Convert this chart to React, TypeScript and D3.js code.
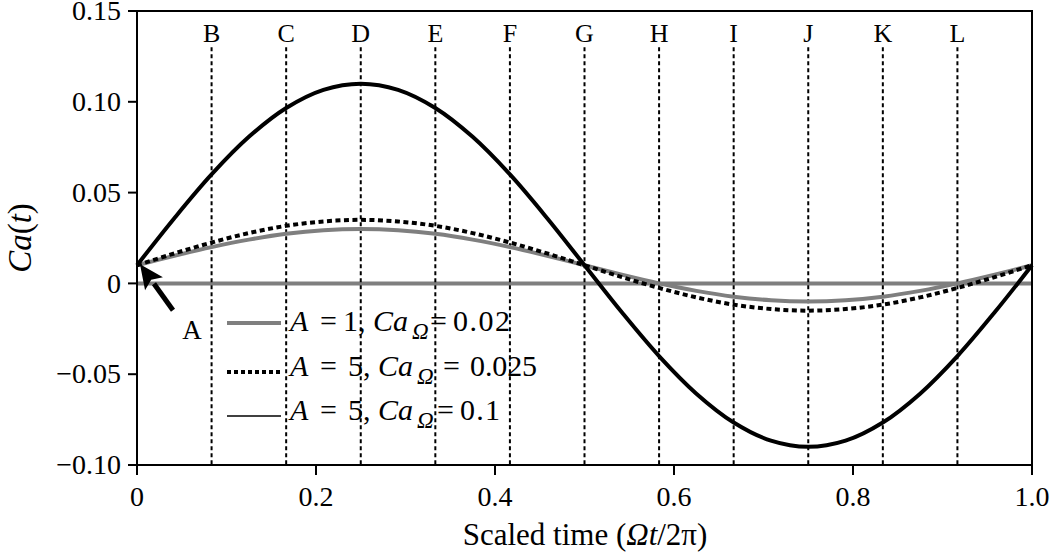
import React from "react";
import * as d3 from "d3";

const tValues = [0, 0.0417, 0.0833, 0.125, 0.1667, 0.2083, 0.25, 0.2917, 0.3333, 0.375, 0.4167, 0.4583, 0.5, 0.5417, 0.5833, 0.625, 0.6667, 0.7083, 0.75, 0.7917, 0.8333, 0.875, 0.9167, 0.9583, 1.0];
const seriesA1 = [0.010, 0.0152, 0.020, 0.0241, 0.0273, 0.0293, 0.030, 0.0293, 0.0273, 0.0241, 0.020, 0.0152, 0.010, 0.0048, 0.000, -0.0041, -0.0073, -0.0093, -0.010, -0.0093, -0.0073, -0.0041, 0.000, 0.0048, 0.010];
const seriesA5low = [0.010, 0.0165, 0.0225, 0.0277, 0.0317, 0.0341, 0.035, 0.0341, 0.0317, 0.0277, 0.0225, 0.0165, 0.010, 0.0035, -0.0025, -0.0077, -0.0117, -0.0141, -0.015, -0.0141, -0.0117, -0.0077, -0.0025, 0.0035, 0.010];
const seriesA5high = [0.010, 0.0359, 0.060, 0.0807, 0.0966, 0.1066, 0.110, 0.1066, 0.0966, 0.0807, 0.060, 0.0359, 0.010, -0.0159, -0.040, -0.0607, -0.0766, -0.0866, -0.090, -0.0866, -0.0766, -0.0607, -0.040, -0.0159, 0.010];
const markerLabels = ["B", "C", "D", "E", "F", "G", "H", "I", "J", "K", "L"];
const markerT = [1 / 12, 2 / 12, 3 / 12, 4 / 12, 5 / 12, 6 / 12, 7 / 12, 8 / 12, 9 / 12, 10 / 12, 11 / 12];
const xTicks = [0, 0.2, 0.4, 0.6, 0.8, 1.0];
const xTickLabels = ["0", "0.2", "0.4", "0.6", "0.8", "1.0"];
const yTicks = [0.15, 0.10, 0.05, 0, -0.05, -0.10];
const yTickLabels = ["0.15", "0.10", "0.05", "0", "\u22120.05", "\u22120.10"];
const markerTop = 0.13;
const arrowPoint = { t: 0, v: 0.01 };
const legendAValues = ["1,", "5,", "5,"];
const legendCaValues = ["0.02", "0.025", "0.1"];

const FONT = "'Liberation Serif', 'Times New Roman', serif";
const GRAY = "#7f7f7f";

export default function App() {
  const W = 1050, H = 559;
  const x0 = 137, x1 = 1032, yTop = 11, yBot = 465;
  const x = d3.scaleLinear().domain([0, 1]).range([x0, x1]);
  const y = d3.scaleLinear().domain([-0.1, 0.15]).range([yBot, yTop]);

  const line = d3
    .line<number>()
    .x((_, i) => x(tValues[i]))
    .y((d) => y(d))
    .curve(d3.curveCatmullRom.alpha(0.5));

  const tipX = x(arrowPoint.t) + 3;
  const tipY = y(arrowPoint.v) - 1;
  const tailX = tipX + 33;
  const tailY = tipY + 46;
  const ang = Math.atan2(tipY - tailY, tipX - tailX);
  const headLen = 24, headW = 11;
  const bx = tipX - headLen * Math.cos(ang);
  const by = tipY - headLen * Math.sin(ang);
  const px = -Math.sin(ang), py = Math.cos(ang);
  const head = `M${tipX},${tipY} L${bx + px * headW},${by + py * headW} L${bx + (tipX - bx) * 0.2},${by + (tipY - by) * 0.2} L${bx - px * headW},${by - py * headW} Z`;

  const legendRows = [
    { y: 323, base: 331, stroke: GRAY, width: 4, dash: undefined as string | undefined, xEq1: 320, xA: 343, xCa: 373, xOm: 412, xEq2: 430, xV: 453, wV: 57 },
    { y: 372, base: 376, stroke: "#000", width: 4, dash: "4,3", xEq1: 320, xA: 348, xCa: 378, xOm: 417, xEq2: 443, xV: 470, wV: 67 },
    { y: 416, base: 420, stroke: "#000", width: 1.5, dash: undefined, xEq1: 320, xA: 348, xCa: 378, xOm: 417, xEq2: 437, xV: 460, wV: 40 },
  ];

  return (
    <svg width={W} height={H} style={{ display: "block", position: "absolute", left: 0, top: 0 }} fontFamily={FONT}>
      <rect x={0} y={0} width={W} height={H} fill="#fff" />
      <line x1={x(0)} x2={x(1)} y1={y(0)} y2={y(0)} stroke={GRAY} strokeWidth={4} />
      {markerT.map((t, i) => (
        <g key={i}>
          <line x1={x(t)} x2={x(t)} y1={y(markerTop)} y2={y(-0.1)} stroke="#000" strokeWidth={2} strokeDasharray="4,3" />
          <text x={x(t)} y={42} fontSize={26} textAnchor="middle">{markerLabels[i]}</text>
        </g>
      ))}
      <path d={line(seriesA1) || ""} fill="none" stroke={GRAY} strokeWidth={4} />
      <path d={line(seriesA5low) || ""} fill="none" stroke="#000" strokeWidth={4} strokeDasharray="5,3.5" />
      <path d={line(seriesA5high) || ""} fill="none" stroke="#000" strokeWidth={4} />
      <rect x={x0} y={yTop} width={x1 - x0} height={yBot - yTop} fill="none" stroke="#000" strokeWidth={2} />
      {yTicks.map((v, i) => (
        <g key={i}>
          <line x1={x0 - 9} x2={x0} y1={y(v)} y2={y(v)} stroke="#000" strokeWidth={2} />
          <text x={x0 - 16} y={y(v)} dy="0.33em" fontSize={28} textAnchor="end">{yTickLabels[i]}</text>
        </g>
      ))}
      {xTicks.map((v, i) => (
        <g key={i}>
          <line x1={x(v)} x2={x(v)} y1={yBot} y2={yBot + 10} stroke="#000" strokeWidth={2} />
          <text x={x(v)} y={506} fontSize={28} textAnchor="middle">{xTickLabels[i]}</text>
        </g>
      ))}
      <text x={585} y={545} fontSize={31} textAnchor="middle">
        Scaled time (<tspan fontStyle="italic">Ωt</tspan>/2π)
      </text>
      <text transform="translate(31,238) rotate(-90)" fontSize={33} textAnchor="middle">
        <tspan fontStyle="italic">Ca</tspan>(<tspan fontStyle="italic">t</tspan>)
      </text>
      <line x1={tailX} y1={tailY} x2={bx} y2={by} stroke="#000" strokeWidth={5} />
      <path d={head} fill="#000" />
      <text x={192} y={339} fontSize={27} textAnchor="middle">A</text>
      {legendRows.map((r, i) => (
        <g key={i} fontSize={30}>
          <line x1={227} x2={281} y1={r.y} y2={r.y} stroke={r.stroke} strokeWidth={r.width} strokeDasharray={r.dash} />
          <text x={290} y={r.base} fontStyle="italic">A</text>
          <text x={r.xEq1} y={r.base}>=</text>
          <text x={r.xA} y={r.base}>{legendAValues[i]}</text>
          <text x={r.xCa} y={r.base} fontStyle="italic">Ca</text>
          <text x={r.xOm} y={r.base + 8} fontStyle="italic" fontSize={23}>Ω</text>
          <text x={r.xEq2} y={r.base}>=</text>
          <text x={r.xV} y={r.base} textLength={r.wV} lengthAdjust="spacing">{legendCaValues[i]}</text>
        </g>
      ))}
    </svg>
  );
}
